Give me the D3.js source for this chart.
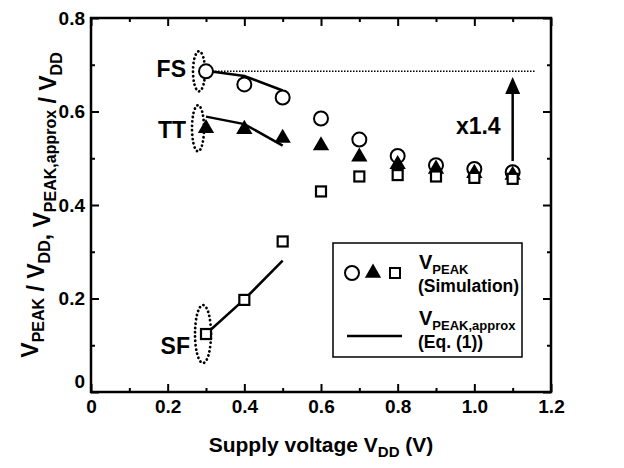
<!DOCTYPE html>
<html>
<head>
<meta charset="utf-8">
<script src="https://cdn.jsdelivr.net/npm/d3@7"></script>
<style>
  body { margin: 0; background: #fff; }
  svg { display: block; font-family: "Liberation Sans", Arial, sans-serif; font-weight: bold; }
</style>
</head>
<body>
<div id="chart"></div>
<script>
const width = 624, height = 468;
const margin = {top: 18, right: 73, bottom: 76, left: 91};

// simulated V_PEAK / V_DD for the three corners
const vdd = [0.3, 0.4, 0.5, 0.6, 0.7, 0.8, 0.9, 1.0, 1.1];
const peakFS = [0.686, 0.658, 0.630, 0.585, 0.540, 0.505, 0.485, 0.477, 0.470];
const peakTT = [0.564, 0.562, 0.543, 0.527, 0.503, 0.487, 0.477, 0.468, 0.464];
const peakSF = [0.124, 0.197, 0.322, 0.429, 0.461, 0.464, 0.461, 0.458, 0.456];

// approximation, Eq. (1)
const vddApprox = [0.3, 0.4, 0.5];
const approxFS = [0.687, 0.676, 0.645];
const approxTT = [0.589, 0.573, 0.527];
const approxSF = [0.124, 0.198, 0.281];

// annotations
const refLevel = 0.686, refEnd = 1.16;
const arrowX = 1.1, arrowFrom = 0.494, arrowTo = 0.674;

const xTicks = [0, 0.2, 0.4, 0.6, 0.8, 1.0, 1.2];
const xTickLabels = ["0", "0.2", "0.4", "0.6", "0.8", "1.0", "1.2"];
const xMinor = [0.1, 0.3, 0.5, 0.7, 0.9, 1.1];
const yTicks = [0, 0.2, 0.4, 0.6, 0.8];
const yTickLabels = ["0", "0.2", "0.4", "0.6", "0.8"];
const yMinor = [0.1, 0.3, 0.5, 0.7];

const svg = d3.select("#chart").append("svg")
    .attr("width", width)
    .attr("height", height);

const x = d3.scaleLinear().domain([0, 1.2]).range([margin.left, width - margin.right]);
const y = d3.scaleLinear().domain([0, 0.8]).range([height - margin.bottom, margin.top]);

// axes, ticks pointing in
const axes = svg.append("g");
const fmtX = d => xTickLabels[xTicks.indexOf(d)];
const fmtY = d => yTickLabels[yTicks.indexOf(d)];

function styleAxis(g) {
  g.select(".domain").remove();
  g.selectAll(".tick line").attr("stroke", "#000").attr("stroke-width", 2);
  g.selectAll("text").attr("fill", "#000").style("font-size", "19px").style("font-weight", "bold");
}

axes.append("g").attr("transform", `translate(0,${y(0)})`)
    .call(d3.axisBottom(x).tickValues(xTicks).tickSize(-8).tickPadding(8).tickFormat(fmtX))
    .call(styleAxis);
axes.append("g").attr("transform", `translate(0,${y(0)})`)
    .call(d3.axisBottom(x).tickValues(xMinor).tickSize(-4).tickFormat(""))
    .call(styleAxis);
axes.append("g").attr("transform", `translate(0,${y(0.8)})`)
    .call(d3.axisTop(x).tickValues(xTicks).tickSize(-8).tickFormat(""))
    .call(styleAxis);
axes.append("g").attr("transform", `translate(0,${y(0.8)})`)
    .call(d3.axisTop(x).tickValues(xMinor).tickSize(-4).tickFormat(""))
    .call(styleAxis);

const yAxis = axes.append("g").attr("transform", `translate(${x(0)},0)`)
    .call(d3.axisLeft(y).tickValues(yTicks).tickSize(-8).tickPadding(6).tickFormat(fmtY))
    .call(styleAxis);
yAxis.selectAll(".tick").filter(d => d === 0).select("text").attr("dy", "-0.25em");
axes.append("g").attr("transform", `translate(${x(0)},0)`)
    .call(d3.axisLeft(y).tickValues(yMinor).tickSize(-4).tickFormat(""))
    .call(styleAxis);
axes.append("g").attr("transform", `translate(${x(1.2)},0)`)
    .call(d3.axisRight(y).tickValues(yTicks).tickSize(-8).tickFormat(""))
    .call(styleAxis);
axes.append("g").attr("transform", `translate(${x(1.2)},0)`)
    .call(d3.axisRight(y).tickValues(yMinor).tickSize(-4).tickFormat(""))
    .call(styleAxis);

svg.append("rect")
    .attr("x", x(0)).attr("y", y(0.8))
    .attr("width", x(1.2) - x(0)).attr("height", y(0) - y(0.8))
    .attr("fill", "none").attr("stroke", "#000").attr("stroke-width", 2.5);

// axis titles
const xTitle = svg.append("text")
    .attr("x", (x(0) + x(1.2)) / 2).attr("y", 452)
    .attr("text-anchor", "middle").style("font-size", "21px");
xTitle.append("tspan").text("Supply voltage V");
xTitle.append("tspan").attr("dy", 5).style("font-size", "15px").text("DD");
xTitle.append("tspan").attr("dy", -5).text(" (V)");

const yTitle = svg.append("text")
    .attr("transform", `translate(38,${(y(0) + y(0.8)) / 2}) rotate(-90)`)
    .attr("text-anchor", "middle").style("font-size", "23px");
[["V", "PEAK"], [" / V", "DD"], [", V", "PEAK,approx"], [" / V", "DD"]].forEach(([main, sub]) => {
  yTitle.append("tspan").attr("dy", 0).text(main);
  yTitle.append("tspan").attr("dy", 6).style("font-size", "16px").text(sub);
  yTitle.append("tspan").attr("dy", -6).text("");
});

// reference dotted line and arrow
svg.append("line")
    .attr("x1", x(0.3)).attr("x2", x(refEnd))
    .attr("y1", y(refLevel)).attr("y2", y(refLevel))
    .attr("stroke", "#000").attr("stroke-width", 1.6).attr("stroke-dasharray", "1.5,1.5");

svg.append("line")
    .attr("x1", x(arrowX)).attr("x2", x(arrowX))
    .attr("y1", y(arrowFrom)).attr("y2", y(arrowTo) + 14)
    .attr("stroke", "#000").attr("stroke-width", 2.5);
svg.append("path")
    .attr("d", `M${x(arrowX)},${y(arrowTo)} l-7.5,17 l15,0 z`)
    .attr("fill", "#000");
svg.append("text")
    .attr("x", x(arrowX) - 12).attr("y", y(0.57) + 8)
    .attr("text-anchor", "end").style("font-size", "23px").text("x1.4");

// approximation lines
const line = d3.line().x(d => x(d[0])).y(d => y(d[1]));
[approxFS, approxTT, approxSF].forEach(vals => {
  svg.append("path")
      .datum(vddApprox.map((v, i) => [v, vals[i]]))
      .attr("d", line)
      .attr("fill", "none").attr("stroke", "#000").attr("stroke-width", 2.5);
});

// dotted ellipses round the 0.3 V points
const ellipses = [
  {v: peakFS[0], dx: -7, rx: 6, ry: 20},
  {v: peakTT[0], dx: -8, rx: 6, ry: 23},
  {v: peakSF[0], dx: -3, rx: 8, ry: 29}
];
svg.append("g").selectAll("ellipse").data(ellipses).join("ellipse")
    .attr("cx", d => x(0.3) + d.dx).attr("cy", d => y(d.v))
    .attr("rx", d => d.rx).attr("ry", d => d.ry)
    .attr("fill", "none").attr("stroke", "#000").attr("stroke-width", 2.8)
    .attr("stroke-dasharray", "0.1,4.2").attr("stroke-linecap", "round");

// markers
const tri = d3.symbol().type(d3.symbolTriangle).size(115);
svg.append("g").selectAll("circle").data(vdd).join("circle")
    .attr("cx", d => x(d)).attr("cy", (d, i) => y(peakFS[i])).attr("r", 7)
    .attr("fill", "#fff").attr("stroke", "#000").attr("stroke-width", 2);
svg.append("g").selectAll("path").data(vdd).join("path")
    .attr("d", tri)
    .attr("transform", (d, i) => `translate(${x(d)},${y(peakTT[i])})`)
    .attr("fill", "#000");
svg.append("g").selectAll("rect").data(vdd).join("rect")
    .attr("x", d => x(d) - 5).attr("y", (d, i) => y(peakSF[i]) - 5)
    .attr("width", 10).attr("height", 10)
    .attr("fill", "#fff").attr("stroke", "#000").attr("stroke-width", 2.2);

// corner labels, placed left of the 0.3 V points
[["FS", peakFS[0], 20, 6], ["TT", peakTT[0], 20, 10], ["SF", peakSF[0], 16, 20]].forEach(([t, v, gap, dy]) => {
  svg.append("text")
      .attr("x", x(0.3) - gap).attr("y", y(v) + dy)
      .attr("text-anchor", "end").style("font-size", "23px").text(t);
});

// legend
const lg = svg.append("g").attr("transform", "translate(333,243)");
lg.append("rect").attr("width", 189).attr("height", 114)
    .attr("fill", "#fff").attr("stroke", "#000").attr("stroke-width", 1.5);
lg.append("circle").attr("cx", 19).attr("cy", 30).attr("r", 7)
    .attr("fill", "#fff").attr("stroke", "#000").attr("stroke-width", 2);
lg.append("path").attr("d", tri).attr("transform", "translate(40,30)").attr("fill", "#000");
lg.append("rect").attr("x", 57).attr("y", 25).attr("width", 10).attr("height", 10)
    .attr("fill", "#fff").attr("stroke", "#000").attr("stroke-width", 2);
lg.append("line").attr("x1", 14).attr("x2", 69).attr("y1", 93).attr("y2", 93)
    .attr("stroke", "#000").attr("stroke-width", 2.5);

function legendLabel(sub, note, y0) {
  const t = lg.append("text").attr("x", 86).attr("y", y0).style("font-size", "20px");
  t.append("tspan").text("V");
  t.append("tspan").attr("dy", 5).style("font-size", "13px").text(sub);
  lg.append("text").attr("x", 85).attr("y", y0 + 23).style("font-size", "17.5px").text(note);
}
legendLabel("PEAK", "(Simulation)", 26);
legendLabel("PEAK,approx", "(Eq. (1))", 82);
</script>
</body>
</html>
